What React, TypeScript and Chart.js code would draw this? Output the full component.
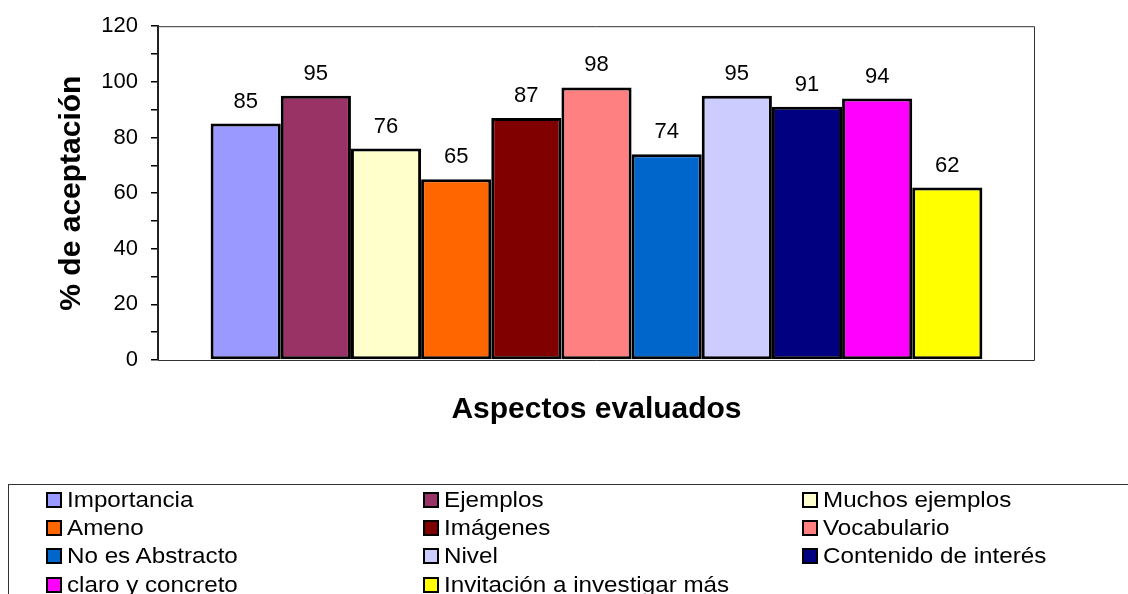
import React, { useEffect, useRef } from "react";
import { Chart, registerables } from "chart.js";

Chart.register(...registerables);

const categories = [""];
const seriesNames = [
  "Importancia",
  "Ejemplos",
  "Muchos ejemplos",
  "Ameno",
  "Imágenes",
  "Vocabulario",
  "No es Abstracto",
  "Nivel",
  "Contenido de interés",
  "claro y concreto",
  "Invitación a investigar más",
];
const seriesValues = [85, 95, 76, 65, 87, 98, 74, 95, 91, 94, 62];
const seriesColors = [
  "#9999FF",
  "#993366",
  "#FFFFCC",
  "#FF6600",
  "#800000",
  "#FF8080",
  "#0066CC",
  "#CCCCFF",
  "#000080",
  "#FF00FF",
  "#FFFF00",
];
const yMin = 0;
const yMax = 120;
const yMinorStep = 10;
const yLabelStep = 20;
const yTitle = "% de aceptación";
const xTitle = "Aspectos evaluados";

const FONT = "'Liberation Sans', Arial, Helvetica, sans-serif";

const W = 1128;
const H = 594;

const decorPlugin = {
  id: "decor",
  beforeDatasetsDraw(chart: any) {
    const { ctx, chartArea: a } = chart;
    ctx.save();
    ctx.strokeStyle = "#333";
    ctx.lineWidth = 1;
    ctx.beginPath();
    ctx.moveTo(a.left, a.top + 0.5);
    ctx.lineTo(a.right - 0.5, a.top + 0.5);
    ctx.lineTo(a.right - 0.5, a.bottom + 0.5);
    ctx.lineTo(a.left, a.bottom + 0.5);
    ctx.stroke();
    ctx.restore();
  },
  afterDatasetsDraw(chart: any) {
    const { ctx, chartArea: a } = chart;
    ctx.save();
    ctx.fillStyle = "#000";
    ctx.font = `22px ${FONT}`;
    ctx.textAlign = "center";
    ctx.textBaseline = "alphabetic";
    chart.data.datasets.forEach((ds: any, i: number) => {
      const meta = chart.getDatasetMeta(i);
      meta.data.forEach((bar: any, j: number) => {
        ctx.fillText(String(ds.data[j]), bar.x, bar.y - 16);
      });
    });
    // x title
    ctx.font = `bold 30px ${FONT}`;
    ctx.fillText(xTitle, (a.left + a.right) / 2, a.bottom + 58);
    // y title
    ctx.translate(80, (a.top + a.bottom) / 2);
    ctx.rotate(-Math.PI / 2);
    ctx.fillText(yTitle, 0, 0);
    ctx.restore();
  },
};

export default function App() {
  const ref = useRef<HTMLCanvasElement | null>(null);

  useEffect(() => {
    if (!ref.current) return;
    Chart.defaults.font.family = FONT;
    const chart = new Chart(ref.current, {
      type: "bar",
      data: {
        labels: categories,
        datasets: seriesNames.map((name, i) => ({
          label: name,
          data: [seriesValues[i]],
          backgroundColor: seriesColors[i],
          borderColor: "#000",
          borderWidth: 3,
          borderSkipped: false,
          categoryPercentage: 0.88,
          barPercentage: 1,
        })),
      },
      options: {
        responsive: false,
        animation: false,
        devicePixelRatio: 1,
        layout: { padding: { left: 0, right: 93, top: 24, bottom: 0 } },
        plugins: {
          legend: { display: false },
          tooltip: { enabled: false },
        },
        scales: {
          x: {
            type: "category",
            display: true,
            grid: { display: false },
            ticks: { display: false },
            border: { display: false },
            afterFit: (s: any) => {
              s.height = H - 360;
            },
          },
          y: {
            min: yMin,
            max: yMax,
            ticks: {
              stepSize: yMinorStep,
              autoSkip: false,
              color: "#000",
              padding: 13,
              font: { size: 22, family: FONT },
              callback: (v: any) => (Number(v) % yLabelStep === 0 ? String(v) : ""),
            },
            grid: {
              display: true,
              drawOnChartArea: false,
              drawTicks: true,
              tickLength: 7,
              color: "#000",
              lineWidth: 1.5,
            },
            border: { display: true, color: "#222", width: 2 },
            afterFit: (s: any) => {
              s.width = 158;
            },
          },
        },
      },
      plugins: [decorPlugin],
    } as any);
    return () => chart.destroy();
  }, []);

  const colX = [46, 423, 802];
  const rowY = [500, 528, 556, 585];

  return (
    <div
      style={{
        position: "absolute",
        left: 0,
        top: 0,
        width: W,
        height: H,
        overflow: "hidden",
        background: "#fff",
      }}
    >
      <canvas ref={ref} width={W} height={H} style={{ position: "absolute", left: 0, top: 0, width: W, height: H }} />
      <div
        style={{
          position: "absolute",
          left: 8,
          top: 484,
          width: 1300,
          height: 300,
          border: "1px solid #333",
          boxSizing: "border-box",
        }}
      />
      {seriesNames.map((name, i) => {
        const c = i % 3;
        const r = Math.floor(i / 3);
        return (
          <div
            key={name}
            style={{
              position: "absolute",
              left: colX[c],
              top: rowY[r] - 14,
              height: 28,
              display: "flex",
              alignItems: "center",
              whiteSpace: "nowrap",
              fontFamily: FONT,
              fontSize: 22,
              color: "#000",
            }}
          >
            <span
              style={{
                display: "inline-block",
                width: 16,
                height: 16,
                boxSizing: "border-box",
                border: "2px solid #000",
                background: seriesColors[i],
                marginRight: 5,
              }}
            />
            <span style={{ display: "inline-block", transform: "scaleX(1.1)", transformOrigin: "left center" }}>{name}</span>
          </div>
        );
      })}
    </div>
  );
}
